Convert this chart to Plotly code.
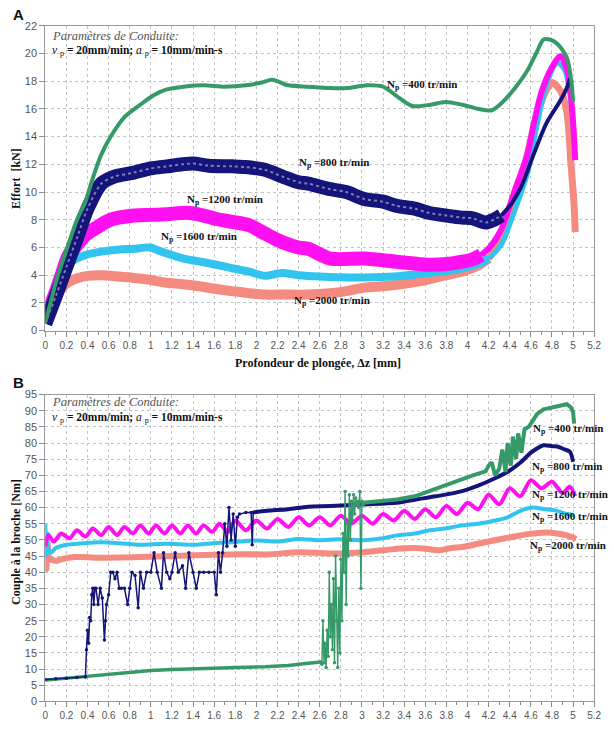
import plotly.graph_objects as go

W, H = 614, 734

# ---------------- Panel A : Effort [kN] ----------------
xA_400 = [0, 0.05, 0.1, 0.2, 0.3, 0.38, 0.45, 0.53, 0.62, 0.75, 0.9, 1.03, 1.15, 1.31, 1.5, 1.7, 1.9, 2.05, 2.15, 2.3, 2.49, 2.7, 2.86, 3.05, 3.2, 3.35, 3.48, 3.65, 3.79, 3.95, 4.1, 4.23, 4.32, 4.45, 4.57, 4.65, 4.72, 4.78, 4.85, 4.94, 4.98, 5.0]
yA_400 = [0.6, 2.0, 3.5, 5.8, 8.0, 9.3, 11.0, 12.7, 14.0, 15.4, 16.3, 17.0, 17.4, 17.6, 17.7, 17.6, 17.7, 17.9, 18.1, 17.7, 17.6, 17.5, 17.5, 17.7, 17.6, 16.8, 16.2, 16.3, 16.5, 16.3, 16.0, 15.9, 16.4, 17.5, 18.8, 20.0, 21.0, 21.0, 20.7, 19.7, 18.2, 16.5]

xA_800 = [0, 0.1, 0.2, 0.31, 0.4, 0.53, 0.65, 0.84, 1.0, 1.15, 1.3, 1.4, 1.55, 1.77, 1.9, 2.08, 2.25, 2.4, 2.49, 2.7, 2.85, 3.02, 3.2, 3.33, 3.5, 3.63, 3.8, 3.95, 4.05, 4.17, 4.25, 4.32, 4.42, 4.51, 4.63, 4.75, 4.88, 4.94, 4.97]
yA_800 = [0.5, 2.5, 4.6, 6.9, 8.8, 10.6, 11.1, 11.4, 11.7, 11.85, 12.0, 12.05, 11.9, 11.85, 11.8, 11.6, 11.1, 10.7, 10.6, 10.2, 10.0, 9.5, 9.3, 9.0, 8.8, 8.5, 8.3, 8.15, 8.1, 7.8, 8.0, 8.3, 9.2, 10.4, 12.8, 15.0, 16.6, 17.5, 18.2]

xA_1200 = [0, 0.05, 0.1, 0.15, 0.22, 0.3, 0.38, 0.5, 0.62, 0.84, 1.0, 1.15, 1.34, 1.5, 1.62, 1.77, 1.93, 2.08, 2.24, 2.4, 2.49, 2.7, 3.02, 3.33, 3.63, 3.8, 3.95, 4.05, 4.13, 4.22, 4.32, 4.44, 4.57, 4.63, 4.7, 4.8, 4.88, 4.95, 5.0, 5.02]
yA_1200 = [0.8, 1.8, 2.8, 3.9, 5.4, 6.2, 6.9, 7.5, 8.0, 8.3, 8.35, 8.4, 8.5, 8.3, 8.05, 7.85, 7.6, 7.0, 6.4, 6.0, 5.9, 5.2, 5.2, 4.97, 4.75, 4.8, 4.97, 5.15, 5.45, 6.1, 7.3, 9.95, 12.8, 15.0, 17.2, 19.0, 19.8, 18.6, 15.0, 12.3]

xA_1600 = [0, 0.05, 0.1, 0.16, 0.22, 0.3, 0.4, 0.53, 0.7, 0.84, 0.99, 1.1, 1.31, 1.45, 1.62, 1.77, 1.93, 2.08, 2.24, 2.4, 2.6, 2.8, 3.02, 3.3, 3.63, 3.8, 3.95, 4.1, 4.2, 4.32, 4.44, 4.57, 4.65, 4.75, 4.85, 4.92, 4.98, 5.01]
yA_1600 = [0.8, 1.8, 3.0, 4.0, 4.8, 5.2, 5.5, 5.7, 5.85, 5.9, 6.0, 5.7, 5.2, 5.0, 4.75, 4.5, 4.25, 3.95, 4.15, 4.0, 3.9, 3.85, 3.84, 3.9, 4.15, 4.3, 4.5, 4.8, 5.2, 6.2, 8.5, 11.4, 14.5, 17.8, 19.3, 18.8, 16.5, 14.0]

xA_2000 = [0, 0.05, 0.1, 0.16, 0.22, 0.31, 0.4, 0.53, 0.7, 0.84, 1.0, 1.15, 1.3, 1.46, 1.62, 1.77, 1.93, 2.08, 2.25, 2.49, 2.7, 2.85, 3.02, 3.2, 3.33, 3.5, 3.63, 3.8, 3.95, 4.1, 4.2, 4.32, 4.44, 4.54, 4.62, 4.69, 4.75, 4.8, 4.88, 4.94, 4.98, 5.01, 5.02]
yA_2000 = [0.6, 1.5, 2.4, 3.1, 3.5, 3.8, 3.95, 4.0, 3.9, 3.8, 3.65, 3.45, 3.35, 3.2, 3.0, 2.85, 2.7, 2.6, 2.6, 2.6, 2.7, 2.85, 3.1, 3.2, 3.3, 3.5, 3.7, 4.0, 4.26, 4.7, 5.2, 6.6, 9.2, 11.85, 14.5, 16.3, 17.4, 17.9, 17.3, 15.8, 12.0, 9.0, 7.1]

# ---------------- Panel B : Couple à la broche [Nm] ----------------
xB_400base = [0, 0.2, 0.4, 0.6, 0.84, 1.0, 1.2, 1.46, 1.7, 1.9, 2.08, 2.3, 2.49, 2.61]
yB_400base = [6.6, 7.2, 7.8, 8.5, 9.15, 9.6, 9.9, 10.25, 10.5, 10.6, 10.7, 11.1, 11.8, 12.2]
xB_400a = [2.61, 2.62, 2.63, 2.64, 2.65, 2.66, 2.67, 2.68, 2.69, 2.70, 2.71, 2.72, 2.73, 2.74, 2.75, 2.76, 2.77, 2.78, 2.79, 2.80, 2.81, 2.82, 2.83, 2.84, 2.85, 2.86, 2.87, 2.88, 2.89, 2.90, 2.91, 2.92, 2.93, 2.94, 2.95, 2.96, 2.97, 2.98, 2.99, 3.0, 3.01]
yB_400a = [12.2, 11.5, 25, 12, 18, 10.5, 22, 14, 40, 20, 30, 16, 38, 12, 45, 25, 10.5, 35, 15, 44, 25, 52, 40, 65, 30, 55, 45, 64, 50, 62, 56, 64, 58, 63, 61, 62, 60, 65, 35, 62, 61]
xB_400b = [3.01, 3.2, 3.33, 3.5, 3.63, 3.8, 3.95, 4.05, 4.17, 4.2, 4.23, 4.26, 4.3, 4.33, 4.36, 4.38, 4.41, 4.43, 4.46, 4.48, 4.51, 4.54, 4.58, 4.62, 4.66, 4.72, 4.8, 4.87, 4.94, 4.98, 5.0, 5.01]
yB_400b = [61.5, 62, 62.5, 63.5, 65, 67, 69, 70, 71.2, 73, 74, 70, 72, 78, 71, 80, 73, 82, 75, 83, 77, 84.3, 85, 87, 89, 90.4, 91, 91.5, 92, 91, 89.5, 86]

xB_800a = [0, 0.1, 0.2, 0.3, 0.38, 0.39, 0.40, 0.41, 0.42, 0.43, 0.44, 0.45, 0.46, 0.47, 0.48, 0.50, 0.52, 0.54, 0.56, 0.57, 0.58, 0.60, 0.62, 0.64, 0.66, 0.68, 0.70, 0.72, 0.75, 0.78, 0.80, 0.82, 0.85, 0.88, 0.90, 0.93, 0.96, 1.0, 1.03, 1.06, 1.1, 1.12, 1.15, 1.18, 1.2, 1.23, 1.26, 1.3, 1.33, 1.36, 1.4, 1.43, 1.46, 1.5, 1.55, 1.6, 1.62, 1.64, 1.66, 1.68, 1.70, 1.72, 1.74, 1.76, 1.78, 1.80, 1.82, 1.84, 1.9, 1.95, 1.96, 1.97]
yB_800a = [6.8, 7.0, 7.2, 7.4, 7.6, 16, 22, 18, 26, 25, 33, 35, 30, 35, 35, 30, 35, 32, 19, 25, 30, 33, 40, 40, 38, 40, 35, 35, 35, 30, 35, 40, 39, 29, 40, 35, 40, 40, 46, 40, 35, 46, 40, 38, 40, 46, 40, 42, 35, 46, 40, 35, 40, 40, 40, 40, 33, 46, 40, 46, 55, 48, 60, 50, 58, 48, 57, 58, 58.5, 58.5, 48.5, 58.5]
xB_800b = [1.97, 2.1, 2.3, 2.49, 2.7, 3.0, 3.33, 3.51, 3.7, 3.95, 4.1, 4.26, 4.4, 4.51, 4.6, 4.72, 4.8, 4.85, 4.92, 4.97, 5.0]
yB_800b = [58.5, 59, 59.5, 60.3, 60.5, 61, 61.5, 62.5, 63.5, 65.1, 66.8, 69.1, 71.5, 74.2, 77, 79.3, 79.0, 78.9, 78, 77.3, 74.2]

xB_1200 = [0.0, 0.03, 0.08, 0.15, 0.23, 0.30, 0.38, 0.45, 0.53, 0.60, 0.68, 0.75, 0.83, 0.90, 0.98, 1.05, 1.13, 1.20, 1.28, 1.35, 1.43, 1.50, 1.58, 1.65, 1.73, 1.80, 1.90, 2.00, 2.10, 2.20, 2.30, 2.40, 2.50, 2.60, 2.70, 2.80, 2.90, 3.00, 3.10, 3.20, 3.30, 3.40, 3.50, 3.60, 3.70, 3.80, 3.90, 4.00, 4.10, 4.20, 4.30, 4.40, 4.50, 4.60, 4.70, 4.80, 4.90, 4.97, 5.02]
yB_1200 = [48, 51.5, 49.5, 52, 50.5, 53, 51, 53.5, 51.5, 54, 51.5, 54, 52, 54.5, 52, 54.5, 52, 54.5, 52, 54.5, 52, 54.5, 52.5, 55, 52.5, 56, 53, 56, 53.5, 56.5, 54, 57, 54.5, 57, 54.5, 57.5, 55, 57.5, 55, 58, 56, 59, 56.5, 59.5, 57, 60.5, 58, 61.5, 59.5, 64, 61, 66, 63.5, 68.5, 66, 68, 64.5, 66.5, 63.5]

xB_1600 = [0, 0.01, 0.02, 0.03, 0.05, 0.1, 0.2, 0.3, 0.53, 0.7, 0.9, 1.15, 1.4, 1.6, 1.77, 2.0, 2.2, 2.4, 2.58, 2.8, 3.02, 3.2, 3.33, 3.5, 3.63, 3.8, 3.95, 4.1, 4.26, 4.38, 4.5, 4.62, 4.72, 4.85, 4.94, 5.0]
yB_1600 = [55, 45, 52, 47, 46, 47.5, 48.5, 48.8, 49.3, 49, 48.5, 48.8, 48.5, 49, 49.3, 49.8, 49.5, 50.3, 49.9, 50.2, 49.9, 50.5, 51.4, 52, 52.9, 53.6, 54.5, 55.0, 56.0, 57.0, 59.0, 60.0, 59.6, 59, 58, 57.8]

xB_2000 = [0, 0.01, 0.02, 0.04, 0.065, 0.1, 0.15, 0.28, 0.5, 0.9, 1.2, 1.5, 1.84, 2.1, 2.4, 2.7, 3.02, 3.2, 3.33, 3.5, 3.6, 3.73, 3.85, 3.95, 4.1, 4.26, 4.4, 4.57, 4.75, 4.85, 4.94, 5.03]
yB_2000 = [47, 41, 49, 44, 43.8, 43.5, 44, 44.7, 44.5, 44.7, 45, 45.3, 45.6, 45.5, 46.2, 45.8, 46.2, 46.8, 47.3, 47.5, 47.3, 46.8, 47.5, 47.8, 48.8, 49.9, 50.8, 51.8, 52.3, 52.0, 51.4, 50.3]

speed_labels = ["400", "800", "1200", "1600", "2000"]
x_ticks = [round(i * 0.2, 1) for i in range(27)]

GREEN = "#359a68"
NAVY = "#14147a"
MAGENTA = "#ff10f0"
CYAN = "#30c4ee"
SALMON = "#f48a80"

fig = go.Figure()

def add(x, y, color, width, axis, shape="linear", mode="lines", msize=0, dash=None):
    xa, ya = axis
    line = dict(color=color, width=width, shape=shape)
    if shape == "spline":
        line["smoothing"] = 0.8
    if dash:
        line["dash"] = dash
    kw = dict(x=x, y=y, mode=mode, xaxis=xa, yaxis=ya, showlegend=False, line=line, hoverinfo="skip")
    if "markers" in mode:
        kw["marker"] = dict(color=color, size=msize, symbol="circle")
    fig.add_trace(go.Scatter(**kw))

A = ("x", "y")
B = ("x2", "y2")

def split(xs, ys, xcut):
    i = next(k for k, v in enumerate(xs) if v >= xcut)
    return (xs[:i + 1], ys[:i + 1]), (xs[i:], ys[i:])

# Panel A (thick noisy body, thinner steep rise)
(s1, s2) = split(xA_2000, yA_2000, 4.2)
add(s1[0], s1[1], SALMON, 10, A, "spline")
add(s2[0], s2[1], SALMON, 7, A, "spline")
(c1, c2) = split(xA_1600, yA_1600, 4.2)
add(c1[0], c1[1], CYAN, 8, A, "spline")
add(c2[0], c2[1], CYAN, 5, A, "spline")
(m1, m2) = split(xA_1200, yA_1200, 4.13)
add(m1[0], m1[1], MAGENTA, 14, A, "spline")
add(m2[0], m2[1], MAGENTA, 6, A, "spline")
(n1, n2) = split(xA_800, yA_800, 4.32)
add(n1[0], n1[1], NAVY, 14, A, "spline")
add(n1[0], n1[1], "rgba(255,255,255,0.45)", 2, A, "spline", dash="dot")
add(n2[0], n2[1], NAVY, 4, A, "spline")
add(xA_400, yA_400, GREEN, 4, A, "spline")

# Panel B
add(xB_2000, yB_2000, SALMON, 6, B, "spline")
add(xB_1600, yB_1600, CYAN, 4, B, "spline")
add(xB_1200, yB_1200, MAGENTA, 4, B, "spline")
add(xB_400base, yB_400base, GREEN, 3.5, B, "linear")
add(xB_800a, yB_800a, NAVY, 1.5, B, "linear", "lines+markers", 3.5)
add(xB_800b, yB_800b, NAVY, 4, B, "spline")
add(xB_400a, yB_400a, GREEN, 1.4, B, "linear", "lines+markers", 3.5)
add(xB_400b, yB_400b, GREEN, 4, B, "linear")

# ---------------- Layout ----------------
def px2x(p):
    return p / W

def px2y(p):
    return 1 - p / H

tickfont = dict(family="Liberation Sans, Arial", size=10, color="#555")
grid = dict(showgrid=True, gridcolor="#c4c4c4", griddash="dot", gridwidth=1,
            showline=True, linecolor="#9a9a9a", linewidth=1, mirror=True,
            ticks="outside", tickcolor="#8a8a8a", ticklen=5, zeroline=False)

xcommon = dict(range=[0, 5.2], tickmode="array", tickvals=x_ticks,
               ticktext=[("%g" % v) for v in x_ticks], tickfont=tickfont,
               minor=dict(dtick=0.1, tick0=0, ticks="outside", ticklen=3, tickcolor="#8a8a8a", showgrid=False),
               **grid)

fig.update_layout(
    width=W, height=H,
    margin=dict(l=0, r=0, t=0, b=0),
    paper_bgcolor="white", plot_bgcolor="white",
    xaxis=dict(domain=[px2x(43), px2x(601)], anchor="y", **xcommon),
    yaxis=dict(domain=[px2y(330), px2y(20)], anchor="x", range=[0, 22], dtick=2,
               tickfont=dict(family="Liberation Sans, Arial", size=11, color="#555"), **grid),
    xaxis2=dict(domain=[px2x(43), px2x(601)], anchor="y2", **xcommon),
    yaxis2=dict(domain=[px2y(707), px2y(395)], anchor="x2", range=[0, 95], dtick=5,
                tickfont=dict(family="Liberation Sans, Arial", size=11, color="#555"), **grid),
)

ann = []
serif = "Liberation Serif, Times New Roman"
ann.append(dict(x=px2x(8), y=px2y(9), text="<b>A</b>", font=dict(family="Liberation Sans, Arial", size=15, color="#111")))
ann.append(dict(x=px2x(8), y=px2y(383), text="<b>B</b>", font=dict(family="Liberation Sans, Arial", size=15, color="#111")))
ann.append(dict(x=px2x(13), y=px2y(175), text="<b>Effort  [kN]</b>", textangle=-90, xanchor="center",
                font=dict(family=serif, size=12, color="#111")))
ann.append(dict(x=px2x(13), y=px2y(545), text="<b>Couple à la broche [Nm]</b>", textangle=-90, xanchor="center",
                font=dict(family=serif, size=12, color="#111")))
ann.append(dict(x=px2x(320), y=px2y(363), text="<b>Profondeur de plongée, Δz [mm]</b>", xanchor="center",
                font=dict(family=serif, size=12, color="#111")))
for y1, y2 in [(30, 46), (403, 419)]:
    ann.append(dict(x=px2x(48), y=px2y(y1), text="<i>Paramètres de Conduite:</i>",
                    font=dict(family=serif, size=12.5, color="#555")))
    ann.append(dict(x=px2x(48), y=px2y(y2),
                    text="<i>v</i> <sub>p</sub><b> = 20mm/min; </b><i>a</i> <sub>p</sub><b> = 10mm/min-s</b>",
                    font=dict(family=serif, size=11.5, color="#111")))
for a in ann:
    a.update(xref="paper", yref="paper", showarrow=False, xanchor=a.get("xanchor", "left"), yanchor="middle")

posA = [(3.22, 17.75), (2.38, 12.1), (1.32, 9.45), (1.08, 6.75), (2.34, 2.1)]
posB = [(4.6, 84.4), (4.59, 72.5), (4.59, 64.0), (4.59, 57.2), (4.57, 48.1)]
for lab, (xa, ya), (xb, yb) in zip(speed_labels, posA, posB):
    t = "<b>N<sub>p</sub> =%s tr/min</b>" % lab
    ann.append(dict(x=xa, y=ya, xref="x", yref="y", text=t, showarrow=False, xanchor="left", yanchor="middle",
                    font=dict(family=serif, size=11, color="#111")))
    ann.append(dict(x=xb, y=yb, xref="x2", yref="y2", text=t, showarrow=False, xanchor="left", yanchor="middle",
                    font=dict(family=serif, size=11, color="#111")))

fig.update_layout(annotations=ann)
fig.write_html("out.html")
